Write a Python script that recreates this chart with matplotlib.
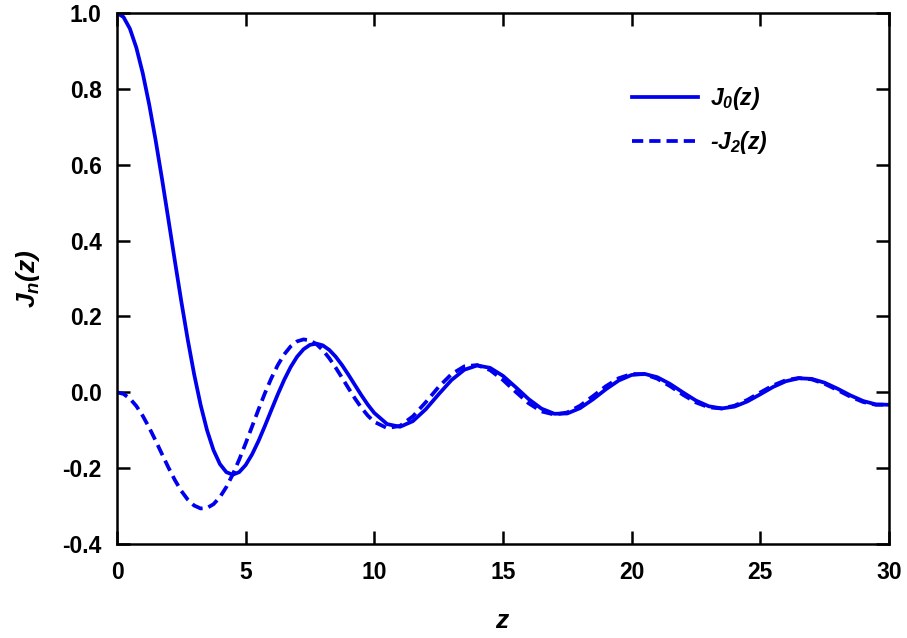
import matplotlib
matplotlib.use('Agg')
import matplotlib.pyplot as plt

# z: every 0.25 up to 10, then every 0.5 up to 30
z = [i * 0.25 for i in range(40)] + [10 + i * 0.5 for i in range(41)]

j0 = [1.0, 0.9896, 0.9589, 0.9089, 0.8415, 0.7592, 0.6650, 0.5623, 0.4546, 0.3458,
      0.2394, 0.1388, 0.0470, -0.0333, -0.1002, -0.1524, -0.1892, -0.2106, -0.2172, -0.2104,
      -0.1918, -0.1636, -0.1283, -0.0884, -0.0466, -0.0053, 0.0331, 0.0667, 0.0939, 0.1135,
      0.1251, 0.1283, 0.1237, 0.1118, 0.0939, 0.0714, 0.0458, 0.0188, -0.0079, -0.0328,
      -0.0544, -0.0838, -0.0909, -0.0761, -0.0447, -0.0053, 0.0323, 0.0595, 0.0708, 0.0645,
      0.0434, 0.0133, -0.0180, -0.0431, -0.0566, -0.0558, -0.0417, -0.0185, 0.0079, 0.0311,
      0.0457, 0.0486, 0.0398, 0.0219, -0.0004, -0.0217, -0.0368, -0.0425, -0.0377, -0.0241,
      -0.0053, 0.0141, 0.0293, 0.0370, 0.0354, 0.0254, 0.0097, -0.0079, -0.0229, -0.0319,
      -0.0329]

neg_j2 = [0.0, -0.0042, -0.0164, -0.0360, -0.0620, -0.0930, -0.1273, -0.1631, -0.1985, -0.2314,
          -0.2601, -0.2829, -0.2986, -0.3062, -0.3050, -0.2950, -0.2763, -0.2497, -0.2163, -0.1774,
          -0.1347, -0.0901, -0.0453, -0.0022, 0.0373, 0.0719, 0.1001, 0.1211, 0.1343, 0.1395,
          0.1369, 0.1271, 0.1111, 0.0899, 0.0650, 0.0380, 0.0104, -0.0164, -0.0408, -0.0616,
          -0.0779, -0.0944, -0.0885, -0.0634, -0.0262, 0.0140, 0.0479, 0.0684, 0.0718, 0.0585,
          0.0326, 0.0009, -0.0290, -0.0504, -0.0588, -0.0531, -0.0352, -0.0101, 0.0160, 0.0371,
          0.0484, 0.0477, 0.0358, 0.0161, -0.0066, -0.0267, -0.0396, -0.0426, -0.0353, -0.0200,
          -0.0005, 0.0183, 0.0321, 0.0377, 0.0341, 0.0225, 0.0060, -0.0114, -0.0255, -0.0330,
          -0.0323]

xticks = [0, 5, 10, 15, 20, 25, 30]
yticks = [-0.4, -0.2, 0.0, 0.2, 0.4, 0.6, 0.8, 1.0]

plt.rcParams['font.family'] = 'Liberation Sans'
plt.rcParams['font.weight'] = 'bold'
plt.rcParams['mathtext.fontset'] = 'custom'
plt.rcParams['mathtext.it'] = 'Liberation Sans:bold:italic'
plt.rcParams['mathtext.rm'] = 'Liberation Sans:bold:italic'
plt.rcParams['mathtext.bf'] = 'Liberation Sans:bold:italic'

blue = '#0000ee'

fig = plt.figure(figsize=(9.07, 6.38), dpi=100)
ax = fig.add_axes([0.129, 0.1473, 0.851, 0.8323])

ax.plot(z, j0, color=blue, lw=2.7, label='$J_0(z)$')
ax.plot(z, neg_j2, color=blue, lw=2.7, dashes=(3.0, 1.6), label='-$J_2(z)$')

ax.set_xlim(0, 30)
ax.set_ylim(-0.4, 1.0)
ax.set_xticks(xticks)
ax.set_yticks(yticks)
ax.set_xticklabels([str(t) for t in xticks])
ax.set_yticklabels(['%.1f' % t for t in yticks])

for s in ax.spines.values():
    s.set_linewidth(1.8)
ax.tick_params(direction='in', length=9.5, width=1.8, top=True, right=True,
               labelsize=16.5)
ax.tick_params(axis='y', pad=11)
ax.tick_params(axis='x', pad=12)

ax.set_xlabel('$z$', fontsize=19, labelpad=18)
ax.set_ylabel('$J_n(z)$', fontsize=19, labelpad=15)

leg = ax.legend(loc='upper left', bbox_to_anchor=(0.667, 0.865), frameon=False,
                borderpad=0, borderaxespad=0, handlelength=2.9, handletextpad=0.5,
                labelspacing=0.75,
                prop={'family': 'Liberation Sans', 'weight': 'bold', 'style': 'italic', 'size': 16.5})

fig.savefig('out.png', dpi=100)
